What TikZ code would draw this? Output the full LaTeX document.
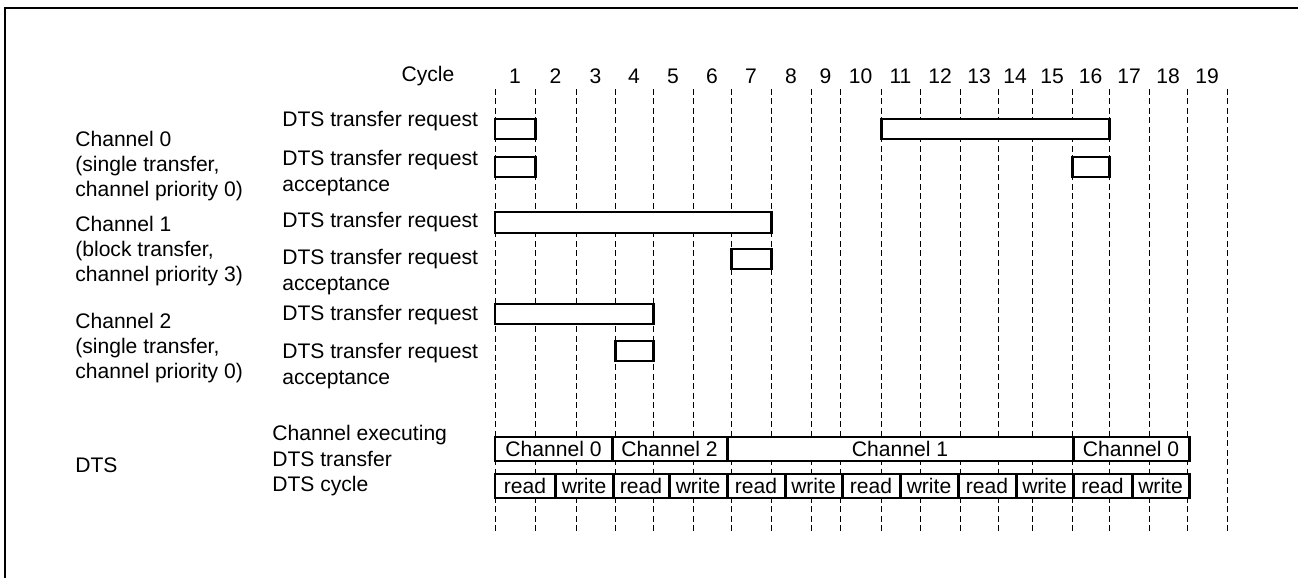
\documentclass[tikz,border=0pt]{standalone}
\usepackage{fontspec}
\setmainfont{Liberation Sans}
\usetikzlibrary{positioning}

\begin{document}
\begin{tikzpicture}[
  x=0.02cm, y=-0.02cm,
  font=\fontsize{12}{14.4}\selectfont,
  lbl/.style={anchor=west,align=left,inner sep=0pt},
  cell/.style={inner sep=0pt},
  sig/.style={draw,line width=1.7pt,fill=white},
  grid/.style={dash pattern=on 3.4pt off 2pt,line width=0.5pt}
]
\useasboundingbox (0,0) rectangle (1298,578);
\draw[line width=1.5pt] (5,578) -- (5,8) -- (1298,8);

% cycle numbers and grid
\node[cell] (cyc) at (428,76) {Cycle};
\foreach \a/\b [count=\i] in {495/535,535/576,576/615,615/653,653/693,693/731,
    731/771,771/811,811/840,840/881,881/920,920/960,960/998,998/1032,
    1032/1072,1072/1109,1109/1149,1149/1187,1187/1227}{
  \draw[grid] (\a,89) -- (\a,532);
  \node[cell] (n\i) at ({(\a+\b)/2},76) {\i};
}
\draw[grid] (1227,89) -- (1227,532);

% channel groups
\node[lbl] (g0) at (75,166) {Channel 0\\(single transfer,\\channel priority 0)};
\node[lbl] (g1) at (75,251) {Channel 1\\(block transfer,\\channel priority 3)};
\node[lbl] (g2) at (75,348) {Channel 2\\(single transfer,\\channel priority 0)};
\node[lbl] (gd) at (75,465) {DTS};

% signal names
\node[lbl] (r0) at (282,121) {DTS transfer request};
\node[lbl] (a0) at (282,173) {DTS transfer request\\acceptance};
\node[lbl] (r1) at (282,222) {DTS transfer request};
\node[lbl] (a1) at (282,272) {DTS transfer request\\acceptance};
\node[lbl] (r2) at (282,315) {DTS transfer request};
\node[lbl] (a2) at (282,366) {DTS transfer request\\acceptance};
\node[lbl] (ex) at (272,446) {Channel executing\\DTS transfer};
\node[lbl] (cy) at (272,486) {DTS cycle};

% request / acceptance pulses
\draw[sig] (495,119) rectangle (535,139);
\draw[sig] (881,119) rectangle (1109,139);
\draw[sig] (495,157) rectangle (535,177);
\draw[sig] (1072,157) rectangle (1109,177);
\draw[sig] (495,212) rectangle (771,233);
\draw[sig] (731,249) rectangle (771,269);
\draw[sig] (495,304) rectangle (653,324);
\draw[sig] (615,341) rectangle (653,361);

% DTS transfers
\foreach \a/\b/\t [count=\i] in {495/612/Channel 0,612/727/Channel 2,
    727/1073/Channel 1,1073/1189/Channel 0}{
  \draw[sig] (\a,437) rectangle (\b,461);
  \node[cell] (ch\i) at ({(\a+\b)/2},449) {\t};
}
\foreach \a/\b/\t [count=\i] in {495/555/read,555/613/write,613/669/read,
    669/727/write,727/785/read,785/842/write,842/900/read,900/958/write,
    958/1016/read,1016/1073/write,1073/1132/read,1132/1189/write}{
  \draw[sig] (\a,474) rectangle (\b,498);
  \node[cell] (rw\i) at ({(\a+\b)/2},486) {\t};
}
\end{tikzpicture}
\end{document}
